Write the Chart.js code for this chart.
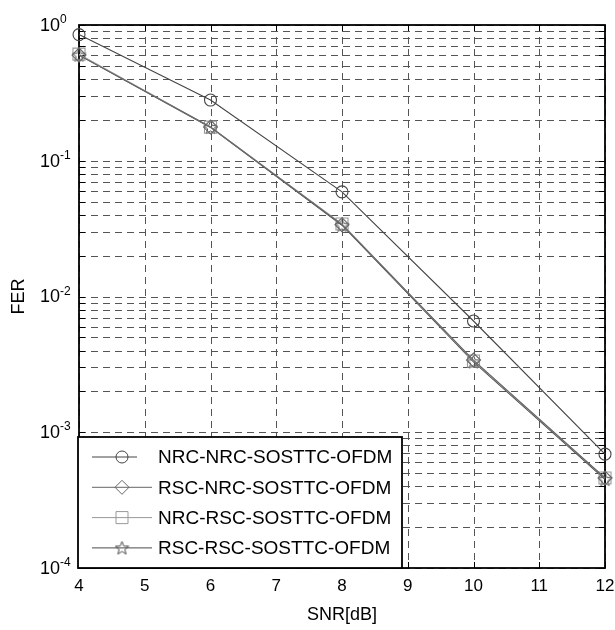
<!DOCTYPE html>
<html>
<head>
<meta charset="utf-8">
<script src="https://cdn.jsdelivr.net/npm/chart.js@4.4.0/dist/chart.umd.min.js"></script>
<style>
  html, body { margin: 0; padding: 0; background: #fff; }
  #wrap { width: 615px; height: 630px; }
</style>
</head>
<body>
<div id="wrap"><canvas id="fer"></canvas></div>
<script>
// values
const snr = [4, 6, 8, 10, 12];
const nrcNrc = [0.85, 0.28, 0.059, 0.0066, 0.00069];
const rscNrc = [0.6, 0.177, 0.0338, 0.0034, 0.00046];
const nrcRsc = [0.61, 0.177, 0.0342, 0.00335, 0.00046];
const rscRsc = [0.6, 0.176, 0.0335, 0.0033, 0.00045];
const seriesLabels = ["NRC-NRC-SOSTTC-OFDM", "RSC-NRC-SOSTTC-OFDM", "NRC-RSC-SOSTTC-OFDM", "RSC-RSC-SOSTTC-OFDM"];
const xTicks = [4, 5, 6, 7, 8, 9, 10, 11, 12];
const yDecades = [-4, -3, -2, -1, 0];

const FONT = "'Liberation Sans', Arial, sans-serif";

// 1..9 x 10^n gridlines for every decade
const yTicks = [];
yDecades.forEach((e, i) => {
  if (i === yDecades.length - 1) {
    yTicks.push(Math.pow(10, e));
    return;
  }
  for (let m = 1; m <= 9; m++) {
    yTicks.push(Number((m * Math.pow(10, e)).toPrecision(3)));
  }
});

const makeStar = (color) => {
  const c = document.createElement("canvas");
  c.width = 15;
  c.height = 15;
  const g = c.getContext("2d");
  g.strokeStyle = color;
  g.lineWidth = 1;
  g.beginPath();
  for (let i = 0; i < 10; i++) {
    const r = i % 2 === 0 ? 7 : 3;
    const a = -Math.PI / 2 + (i * Math.PI) / 5;
    const px = 7.5 + r * Math.cos(a);
    const py = 8 + r * Math.sin(a);
    if (i === 0) g.moveTo(px, py);
    else g.lineTo(px, py);
  }
  g.closePath();
  g.stroke();
  return c;
};

const toPoints = (values) => values.map((v, i) => ({ x: snr[i], y: v }));

const series = [
  { values: nrcNrc, color: "#444", style: "circle", radius: 6 },
  { values: rscNrc, color: "#666", style: "rectRot", radius: 7 },
  { values: nrcRsc, color: "#999", style: "rect", radius: 8.5 },
  { values: rscRsc, color: "#4a4a4a", style: makeStar("#4a4a4a"), radius: 7 },
];

const hLine = (ctx, x1, y1, x2, y2) => {
  ctx.beginPath();
  ctx.moveTo(x1, y1);
  ctx.lineTo(x2, y2);
  ctx.stroke();
};

const framePlugin = {
  id: "frame",
  beforeDatasetsDraw(chart) {
    const { ctx, chartArea: a, scales } = chart;
    const { x, y } = scales;
    ctx.save();
    // dashed grid
    ctx.strokeStyle = "#555";
    ctx.lineWidth = 1;
    ctx.setLineDash([7, 5]);
    y.ticks.forEach((t) => {
      const py = Math.round(y.getPixelForValue(t.value)) + 0.5;
      hLine(ctx, a.left, py, a.right, py);
    });
    x.ticks.forEach((t) => {
      const px = Math.round(x.getPixelForValue(t.value)) + 0.5;
      hLine(ctx, px, a.top, px, a.bottom);
    });
    ctx.setLineDash([]);
    // inward ticks
    ctx.strokeStyle = "#000";
    y.ticks.forEach((t) => {
      const py = Math.round(y.getPixelForValue(t.value)) + 0.5;
      hLine(ctx, a.left, py, a.left + 6, py);
      hLine(ctx, a.right, py, a.right - 6, py);
    });
    x.ticks.forEach((t) => {
      const px = Math.round(x.getPixelForValue(t.value)) + 0.5;
      hLine(ctx, px, a.bottom, px, a.bottom - 6);
      hLine(ctx, px, a.top, px, a.top + 6);
    });
    ctx.lineWidth = 1.8;
    ctx.strokeRect(a.left, a.top, a.right - a.left, a.bottom - a.top);
    ctx.restore();
  },
  afterDraw(chart) {
    const { ctx, chartArea: a, scales } = chart;
    const { x, y } = scales;
    ctx.save();
    ctx.fillStyle = "#000";

    // x tick labels
    ctx.font = `17px ${FONT}`;
    ctx.textAlign = "center";
    ctx.textBaseline = "middle";
    x.ticks.forEach((t) => {
      ctx.fillText(String(t.value), x.getPixelForValue(t.value), a.bottom + 18);
    });

    // y tick labels 10^n
    yDecades.forEach((e) => {
      const py = y.getPixelForValue(Math.pow(10, e));
      ctx.font = `18px ${FONT}`;
      ctx.textAlign = "left";
      ctx.textBaseline = "middle";
      ctx.fillText("10", 40, py + 1);
      const w = ctx.measureText("10").width;
      ctx.font = `12px ${FONT}`;
      ctx.textBaseline = "alphabetic";
      ctx.fillText(String(e), 40 + w, py - 2);
    });

    // axis titles
    ctx.font = `18px ${FONT}`;
    ctx.textAlign = "center";
    ctx.textBaseline = "middle";
    ctx.fillText("SNR[dB]", (a.left + a.right) / 2, a.bottom + 47);
    ctx.save();
    ctx.translate(19, (a.top + a.bottom) / 2);
    ctx.rotate(-Math.PI / 2);
    ctx.fillText("FER", 0, 0);
    ctx.restore();

    // legend
    const lx = a.left - 1;
    const ly = 437;
    ctx.fillStyle = "#fff";
    ctx.fillRect(lx, ly, 324, a.bottom - ly);
    ctx.strokeStyle = "#000";
    ctx.lineWidth = 1.8;
    ctx.strokeRect(lx, ly, 324, a.bottom - ly);
    chart.data.datasets.forEach((ds, i) => {
      const ry = 457 + i * 30.3;
      ctx.strokeStyle = ds.borderColor;
      ctx.lineWidth = 1;
      hLine(ctx, 92, ry, i === 0 ? 137 : 152, ry);
      ctx.fillStyle = "rgba(0,0,0,0)";
      Chart.helpers.drawPoint(ctx, {
        pointStyle: ds.pointStyle,
        radius: ds.pointRadius,
        borderWidth: 1,
        rotation: 0,
      }, 122, ry);
      ctx.fillStyle = "#000";
      ctx.font = `19px ${FONT}`;
      ctx.textAlign = "left";
      ctx.textBaseline = "middle";
      ctx.fillText(ds.label, 158, ry + 1);
    });
    ctx.restore();
  },
};

new Chart("fer", {
  type: "line",
  data: {
    datasets: series.map((s, i) => ({
      label: seriesLabels[i],
      data: toPoints(s.values),
      borderColor: s.color,
      borderWidth: 1.1,
      pointStyle: s.style,
      pointRadius: s.radius,
      pointBorderColor: s.color,
      pointBackgroundColor: "rgba(0,0,0,0)",
      pointBorderWidth: 1.1,
      tension: 0,
      clip: false,
    })),
  },
  options: {
    responsive: true,
    maintainAspectRatio: false,
    animation: false,
    layout: { padding: { left: 79, right: 10, top: 25, bottom: 62 } },
    scales: {
      x: {
        type: "linear",
        min: 4,
        max: 12,
        afterBuildTicks: (scale) => {
          scale.ticks = xTicks.map((v) => ({ value: v }));
        },
        ticks: { display: false },
        grid: { display: false, drawTicks: false },
        border: { display: false },
      },
      y: {
        type: "logarithmic",
        min: 1e-4,
        max: 1,
        afterBuildTicks: (scale) => {
          scale.ticks = yTicks.map((v) => ({ value: v }));
        },
        ticks: { display: false },
        grid: { display: false, drawTicks: false },
        border: { display: false },
      },
    },
    plugins: {
      legend: { display: false },
      tooltip: { enabled: false },
    },
  },
  plugins: [framePlugin],
});
</script>
</body>
</html>
